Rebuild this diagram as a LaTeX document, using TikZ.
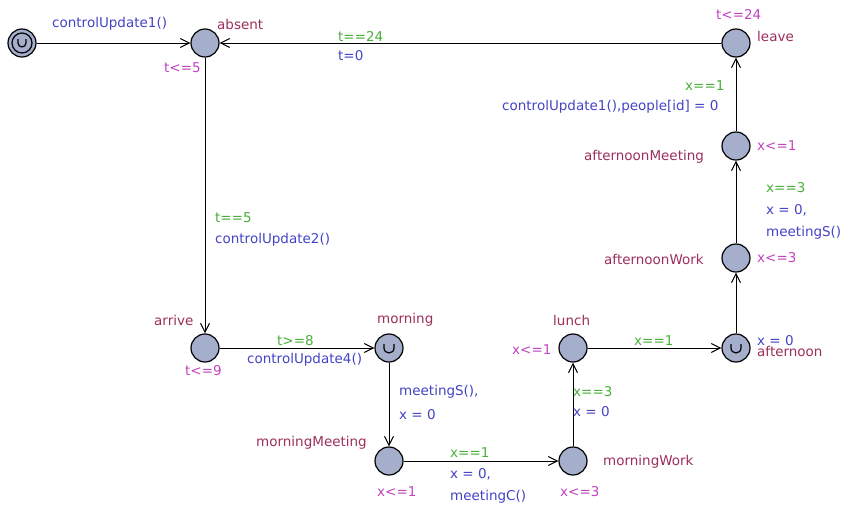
\documentclass[tikz,border=0pt]{standalone}
\usepackage{fontspec}
\setmainfont{DejaVu Sans}
\usetikzlibrary{arrows.meta}
\definecolor{locfill}{HTML}{A5AECB}
\definecolor{namecol}{HTML}{9B2F5A}
\definecolor{invcol}{HTML}{C044C0}
\definecolor{grdcol}{HTML}{48B038}
\definecolor{updcol}{HTML}{4444C4}
\tikzset{
  loc/.style={circle,draw=black,fill=locfill,line width=1.2pt,minimum size=28pt,inner sep=0pt},
  lbl/.style={anchor=west,inner sep=0pt,font=\fontsize{13.5}{16}\selectfont},
  nm/.style={lbl,text=namecol},
  inv/.style={lbl,text=invcol},
  grd/.style={lbl,text=grdcol},
  upd/.style={lbl,text=updcol},
  edge/.style={draw=black,line width=1pt,-{Straight Barb[length=9pt,width=9pt,line width=1pt]}}
}
\newcommand\cglyph[3]{\draw[line width=1.2pt] (#1-#3,#2-4) -- (#1-#3,#2) .. controls (#1-#3,#2+1.3*#3) and (#1+#3,#2+1.3*#3) .. (#1+#3,#2) -- (#1+#3,#2-4);}
\begin{document}
\begin{tikzpicture}[x=1pt,y=-1pt]
\useasboundingbox (0,0) rectangle (849,515);
% locations
\node[loc] (init) at (22,43) {};
\draw[line width=1.2pt] (init.center) circle[radius=10];
\cglyph{22}{43}{4}
\node[loc] (absent) at (205,43) {};
\node[loc] (leave) at (736,43) {};
\node[loc] (aMeet) at (736,146) {};
\node[loc] (aWork) at (736,258) {};
\node[loc] (aft) at (736,348) {};
\cglyph{736}{348}{5}
\node[loc] (lunch) at (573,348) {};
\node[loc] (mWork) at (573,461) {};
\node[loc] (mMeet) at (389,461) {};
\node[loc] (morning) at (389,348) {};
\cglyph{389}{348}{5}
\node[loc] (arrive) at (205,348) {};
% edges
\draw[edge] (init) -- (absent);
\draw[edge] (leave) -- (absent);
\draw[edge] (absent) -- (arrive);
\draw[edge] (arrive) -- (morning);
\draw[edge] (morning) -- (mMeet);
\draw[edge] (mMeet) -- (mWork);
\draw[edge] (mWork) -- (lunch);
\draw[edge] (lunch) -- (aft);
\draw[edge] (aft) -- (aWork);
\draw[edge] (aWork) -- (aMeet);
\draw[edge] (aMeet) -- (leave);
% labels
\node[upd] (l1) at (52,24) {controlUpdate1()};
\node[nm] (l2) at (217,24) {absent};
\node[inv] (l3) at (164,68) {t<=5};
\node[grd] (l4) at (338,36) {t==24};
\node[upd] (l5) at (338,56) {t=0};
\node[inv] (l6) at (716,14) {t<=24};
\node[nm] (l7) at (757,36) {leave};
\node[grd] (l8) at (685,86) {x==1};
\node[upd] (l9) at (502,107) {controlUpdate1(),people[id] = 0};
\node[nm] (l10) at (584,157) {afternoonMeeting};
\node[inv] (l11) at (757,146) {x<=1};
\node[grd] (l12) at (766,188) {x==3};
\node[upd] (l13) at (766,210) {x = 0,};
\node[upd] (l14) at (766,233) {meetingS()};
\node[nm] (l15) at (604,259) {afternoonWork};
\node[inv] (l16) at (757,258) {x<=3};
\node[grd] (l17) at (215,218) {t==5};
\node[upd] (l18) at (215,240) {controlUpdate2()};
\node[nm] (l19) at (154,320) {arrive};
\node[inv] (l20) at (185,371) {t<=9};
\node[grd] (l21) at (277,341) {t>=8};
\node[upd] (l22) at (247,360) {controlUpdate4()};
\node[nm] (l23) at (377,320) {morning};
\node[upd] (l24) at (399,392) {meetingS(),};
\node[upd] (l25) at (399,415) {x = 0};
\node[nm] (l26) at (256,443) {morningMeeting};
\node[inv] (l27) at (377,492) {x<=1};
\node[grd] (l28) at (450,453) {x==1};
\node[upd] (l29) at (450,474) {x = 0,};
\node[upd] (l30) at (450,497) {meetingC()};
\node[nm] (l31) at (603,462) {morningWork};
\node[inv] (l32) at (560,492) {x<=3};
\node[nm] (l33) at (553,320) {lunch};
\node[inv] (l34) at (512,350) {x<=1};
\node[grd] (l35) at (573,392) {x==3};
\node[upd] (l36) at (573,412) {x = 0};
\node[grd] (l37) at (634,341) {x==1};
\node[upd] (l38) at (757,341) {x = 0};
\node[nm] (l39) at (757,351) {afternoon};
\end{tikzpicture}
\end{document}
